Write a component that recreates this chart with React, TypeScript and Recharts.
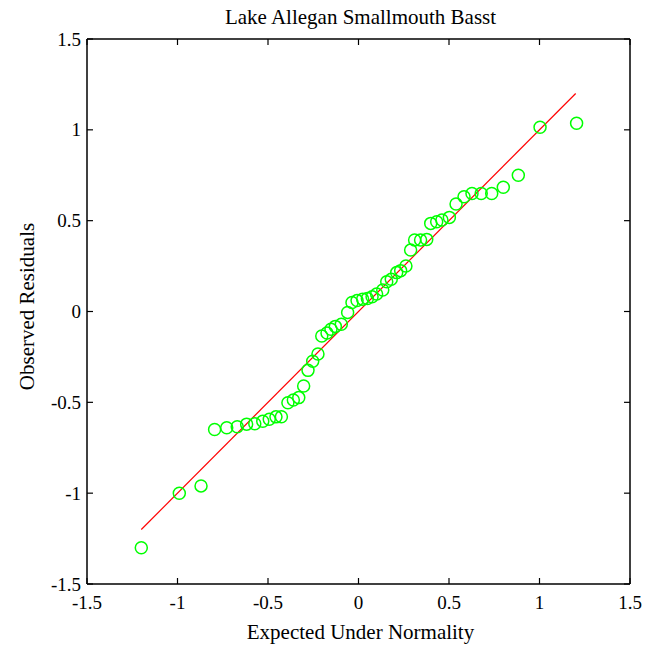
import { ScatterChart, Scatter, XAxis, YAxis, Label } from 'recharts'

// normal quantiles (x) and sorted residuals (y)
const expected = [
  -1.2, -0.99, -0.87, -0.795, -0.728, -0.67, -0.618, -0.573, -0.529, -0.493,
  -0.456, -0.426, -0.39, -0.36, -0.33, -0.303, -0.279, -0.253, -0.224, -0.203,
  -0.174, -0.152, -0.128, -0.095, -0.06, -0.036, -0.008,
  0.023, 0.049, 0.075, 0.1, 0.134, 0.156, 0.181, 0.211, 0.233, 0.262,
  0.288, 0.31, 0.343, 0.377, 0.399, 0.432, 0.461, 0.502, 0.539, 0.583,
  0.627, 0.678, 0.736, 0.8, 0.883, 1.003, 1.205,
]
const observed = [
  -1.3, -1.0, -0.96, -0.65, -0.64, -0.634, -0.62, -0.618, -0.604, -0.593,
  -0.58, -0.579, -0.502, -0.487, -0.474, -0.41, -0.324, -0.274, -0.234, -0.135,
  -0.118, -0.098, -0.082, -0.07, -0.005, 0.05, 0.06,
  0.068, 0.072, 0.081, 0.096, 0.118, 0.164, 0.177, 0.214, 0.225, 0.25,
  0.338, 0.394, 0.394, 0.397, 0.485, 0.494, 0.504, 0.518, 0.592, 0.632,
  0.65, 0.65, 0.65, 0.684, 0.75, 1.014, 1.036,
]
const fitX = [-1.2, 1.2]
const fitY = [-1.2, 1.2]
const axisTicks = [-1.5, -1, -0.5, 0, 0.5, 1, 1.5]
const axisDomain = [-1.5, 1.5]

const points = expected.map((x, i) => ({ x, y: observed[i] }))
const fitLine = fitX.map((x, i) => ({ x, y: fitY[i] }))

const FONT = '"Liberation Serif", "Times New Roman", Times, serif'
const TICK_LEN = 6
const TICK_FONT = 19
const LABEL_FONT = 21
// tiny tick size so the tick props land on the axis line itself
const NO_TICK = 0.01

const BottomTick = ({ x, y, payload }: any) => (
  <g>
    <line x1={x} y1={y} x2={x} y2={y - TICK_LEN} stroke="#000" strokeWidth={1.2} />
    <text x={x} y={y + 25} textAnchor="middle" fontFamily={FONT} fontSize={TICK_FONT} fill="#000">
      {payload.value}
    </text>
  </g>
)

const LeftTick = ({ x, y, payload }: any) => (
  <g>
    <line x1={x} y1={y} x2={x + TICK_LEN} y2={y} stroke="#000" strokeWidth={1.2} />
    <text x={x - 6} y={y + 6.5} textAnchor="end" fontFamily={FONT} fontSize={TICK_FONT} fill="#000">
      {payload.value}
    </text>
  </g>
)

const TopTick = ({ x, y }: any) => (
  <line x1={x} y1={y} x2={x} y2={y + TICK_LEN} stroke="#000" strokeWidth={1.2} />
)

const RightTick = ({ x, y }: any) => (
  <line x1={x} y1={y} x2={x - TICK_LEN} y2={y} stroke="#000" strokeWidth={1.2} />
)

const Ring = ({ cx, cy }: any) => (
  <circle cx={cx} cy={cy} r={6} fill="none" stroke="#00ff00" strokeWidth={1.5} />
)

export default function App() {
  return (
    <div style={{ position: 'absolute', left: 0, top: 0, background: '#fff' }}>
      <ScatterChart width={658} height={650} margin={{ top: 38, right: 27, bottom: 0, left: 0 }}>
        <XAxis
          dataKey="x"
          type="number"
          domain={axisDomain}
          ticks={axisTicks}
          interval={0}
          height={66}
          tickSize={NO_TICK}
          tickMargin={0}
          tickLine={false}
          tick={<BottomTick />}
          axisLine={{ stroke: '#000', strokeWidth: 1.5 }}
          allowDataOverflow
        >
          <Label
            content={({ viewBox }: any) => (
              <text
                x={viewBox.x + viewBox.width / 2 + 2}
                y={viewBox.y + 55}
                textAnchor="middle"
                fontFamily={FONT}
                fontSize={LABEL_FONT}
                fill="#000"
              >
                Expected Under Normality
              </text>
            )}
          />
        </XAxis>
        <XAxis
          xAxisId="top"
          orientation="top"
          dataKey="x"
          type="number"
          domain={axisDomain}
          ticks={axisTicks}
          interval={0}
          height={1}
          tickSize={NO_TICK}
          tickMargin={0}
          tickLine={false}
          tick={<TopTick />}
          axisLine={{ stroke: '#000', strokeWidth: 1.5 }}
          allowDataOverflow
        >
          <Label
            content={({ viewBox }: any) => (
              <text
                x={viewBox.x + viewBox.width / 2 + 2}
                y={viewBox.y - 14}
                textAnchor="middle"
                fontFamily={FONT}
                fontSize={LABEL_FONT}
                fill="#000"
              >
                Lake Allegan Smallmouth Basst
              </text>
            )}
          />
        </XAxis>
        <YAxis
          dataKey="y"
          type="number"
          domain={axisDomain}
          ticks={axisTicks}
          interval={0}
          width={87}
          tickSize={NO_TICK}
          tickMargin={0}
          tickLine={false}
          tick={<LeftTick />}
          axisLine={{ stroke: '#000', strokeWidth: 1.5 }}
          allowDataOverflow
        >
          <Label
            content={({ viewBox }: any) => {
              const cy = viewBox.y + viewBox.height / 2 - 5
              return (
                <text
                  x={34}
                  y={cy}
                  transform={`rotate(-90, 34, ${cy})`}
                  textAnchor="middle"
                  fontFamily={FONT}
                  fontSize={LABEL_FONT}
                  fill="#000"
                >
                  Observed Residuals
                </text>
              )
            }}
          />
        </YAxis>
        <YAxis
          yAxisId="right"
          orientation="right"
          dataKey="y"
          type="number"
          domain={axisDomain}
          ticks={axisTicks}
          interval={0}
          width={1}
          tickSize={NO_TICK}
          tickMargin={0}
          tickLine={false}
          tick={<RightTick />}
          axisLine={{ stroke: '#000', strokeWidth: 1.5 }}
          allowDataOverflow
        />
        <Scatter
          data={fitLine}
          xAxisId="top"
          yAxisId="right"
          line={{ stroke: '#ff0000', strokeWidth: 1.2 }}
          shape={() => <g />}
          isAnimationActive={false}
        />
        <Scatter data={points} shape={<Ring />} isAnimationActive={false} />
      </ScatterChart>
    </div>
  )
}
